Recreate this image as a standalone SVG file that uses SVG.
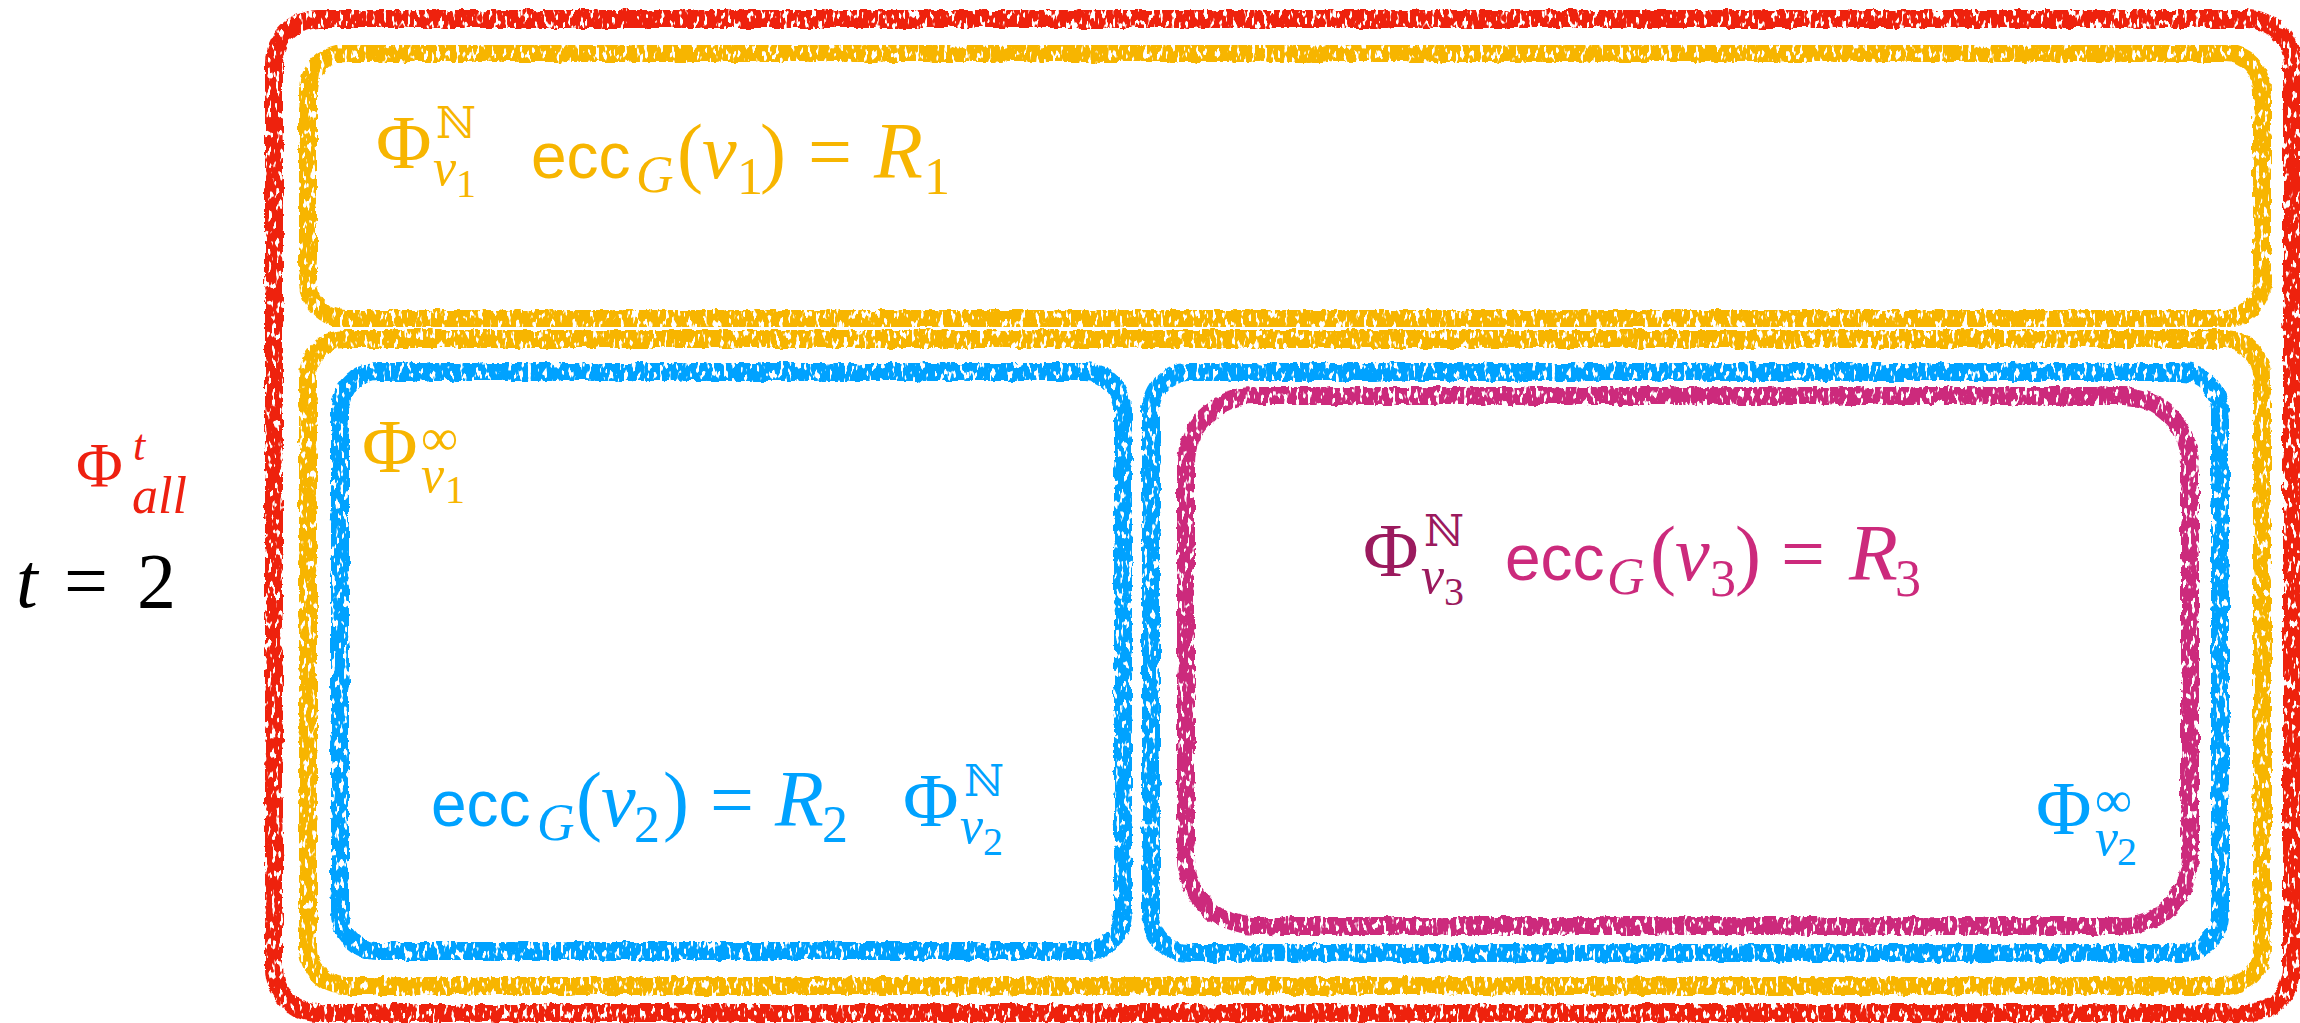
<svg xmlns="http://www.w3.org/2000/svg" width="2300" height="1023" viewBox="0 0 2300 1023">
<defs>
<filter id="chalk" x="-3%" y="-3%" width="106%" height="106%">
<feTurbulence type="fractalNoise" baseFrequency="0.09" numOctaves="3" seed="2" result="noise"/>
<feDisplacementMap in="SourceGraphic" in2="noise" scale="6" xChannelSelector="R" yChannelSelector="G" result="disp"/>
<feTurbulence type="fractalNoise" baseFrequency="0.25 0.1" numOctaves="2" seed="7" result="grain"/>
<feColorMatrix in="grain" type="matrix" values="0 0 0 0 0  0 0 0 0 0  0 0 0 0 0  0 0 0 -14 9.3" result="mask"/>
<feComposite in="disp" in2="mask" operator="in"/>
</filter>
</defs>
<style>
.box{fill:none;stroke-width:18;filter:url(#chalk)}
.red{stroke:#EE2010}
.yel{stroke:#F7B500}
.blu{stroke:#00A2FF}
.mag{stroke:#CC2A7C}
.s{font-family:"Liberation Serif","Times New Roman",serif}
.i{font-family:"Liberation Serif","Times New Roman",serif;font-style:italic}
.a{font-family:"Liberation Sans",Arial,sans-serif}
.n{font-family:"DejaVu Serif","DejaVu Sans",serif}
.cy{fill:#F7B500}
.cb{fill:#00A2FF}
.cm{fill:#CC2A7C}
.cd{fill:#9B1A5E}
.cr{fill:#EE2010}
</style>
<g id="outer">
<rect class="box red" x="274" y="19" width="2018" height="994" rx="45"/>
<g class="cr">
<text class="s" x="76" y="487" font-size="64">Φ</text>
<text class="i" x="133" y="460" font-size="44">t</text>
<text class="i" x="132" y="513" font-size="52">all</text>
</g>
<g>
<text class="i" x="16" y="607" font-size="78">t</text>
<text class="s" x="64" y="607" font-size="78">=</text>
<text class="s" x="137" y="607" font-size="78">2</text>
</g>
</g>
<g id="phi-v1-N">
<rect class="box yel" x="308" y="53" width="1954" height="266" rx="38"/>
<g class="cy">
<text class="s" x="376" y="168" font-size="76">Φ</text>
<text class="n" x="436" y="138" font-size="44">ℕ</text>
<text class="i" x="433" y="185" font-size="52">v</text>
<text class="s" x="456" y="197" font-size="40">1</text>
<text class="a" x="531" y="178" font-size="64">ecc</text>
<text class="i" x="636" y="192" font-size="52">G</text>
<text class="s" x="677" y="178" font-size="78">(</text>
<text class="i" x="702" y="178" font-size="78">v</text>
<text class="s" x="737" y="194" font-size="52">1</text>
<text class="s" x="760" y="178" font-size="78">)</text>
<text class="s" x="808" y="178" font-size="78">=</text>
<text class="i" x="874" y="178" font-size="80">R</text>
<text class="s" x="924" y="194" font-size="52">1</text>
</g>
</g>
<g id="phi-v1-inf">
<rect class="box yel" x="308" y="339" width="1954" height="647" rx="38"/>
<g class="cy">
<text class="s" x="362" y="472" font-size="76">Φ</text>
<text class="s" x="421" y="455" font-size="52">∞</text>
<text class="i" x="421" y="492" font-size="52">v</text>
<text class="s" x="445" y="503" font-size="40">1</text>
</g>
</g>
<g id="phi-v2-N">
<rect class="box blu" x="340" y="372" width="783" height="579" rx="38"/>
<g class="cb">
<text class="a" x="431" y="826" font-size="64">ecc</text>
<text class="i" x="537" y="840" font-size="52">G</text>
<text class="s" x="576" y="826" font-size="78">(</text>
<text class="i" x="601" y="826" font-size="78">v</text>
<text class="s" x="634" y="842" font-size="52">2</text>
<text class="s" x="663" y="826" font-size="78">)</text>
<text class="s" x="710" y="826" font-size="78">=</text>
<text class="i" x="775" y="826" font-size="80">R</text>
<text class="s" x="822" y="842" font-size="52">2</text>
<text class="s" x="903" y="826" font-size="76">Φ</text>
<text class="n" x="964" y="796" font-size="44">ℕ</text>
<text class="i" x="960" y="843" font-size="52">v</text>
<text class="s" x="983" y="855" font-size="40">2</text>
</g>
</g>
<g id="phi-v2-inf">
<rect class="box blu" x="1151" y="372" width="1069" height="581" rx="38"/>
<g class="cb">
<text class="s" x="2036" y="834" font-size="76">Φ</text>
<text class="s" x="2095" y="817" font-size="52">∞</text>
<text class="i" x="2095" y="855" font-size="52">v</text>
<text class="s" x="2117" y="865" font-size="40">2</text>
</g>
</g>
<g id="phi-v3-N">
<rect class="box mag" x="1186" y="396" width="1004" height="530" rx="68"/>
<text class="s cd" x="1363" y="576" font-size="76">Φ</text>
<text class="n cd" x="1424" y="546" font-size="44">ℕ</text>
<text class="i cd" x="1421" y="593" font-size="52">v</text>
<text class="s cd" x="1444" y="605" font-size="40">3</text>
<g class="cm">
<text class="a" x="1505" y="580" font-size="64">ecc</text>
<text class="i" x="1607" y="594" font-size="52">G</text>
<text class="s" x="1650" y="580" font-size="78">(</text>
<text class="i" x="1675" y="580" font-size="78">v</text>
<text class="s" x="1710" y="596" font-size="52">3</text>
<text class="s" x="1735" y="580" font-size="78">)</text>
<text class="s" x="1781" y="580" font-size="78">=</text>
<text class="i" x="1849" y="580" font-size="80">R</text>
<text class="s" x="1895" y="596" font-size="52">3</text>
</g>
</g>
<g id="connectors"/>
</svg>
